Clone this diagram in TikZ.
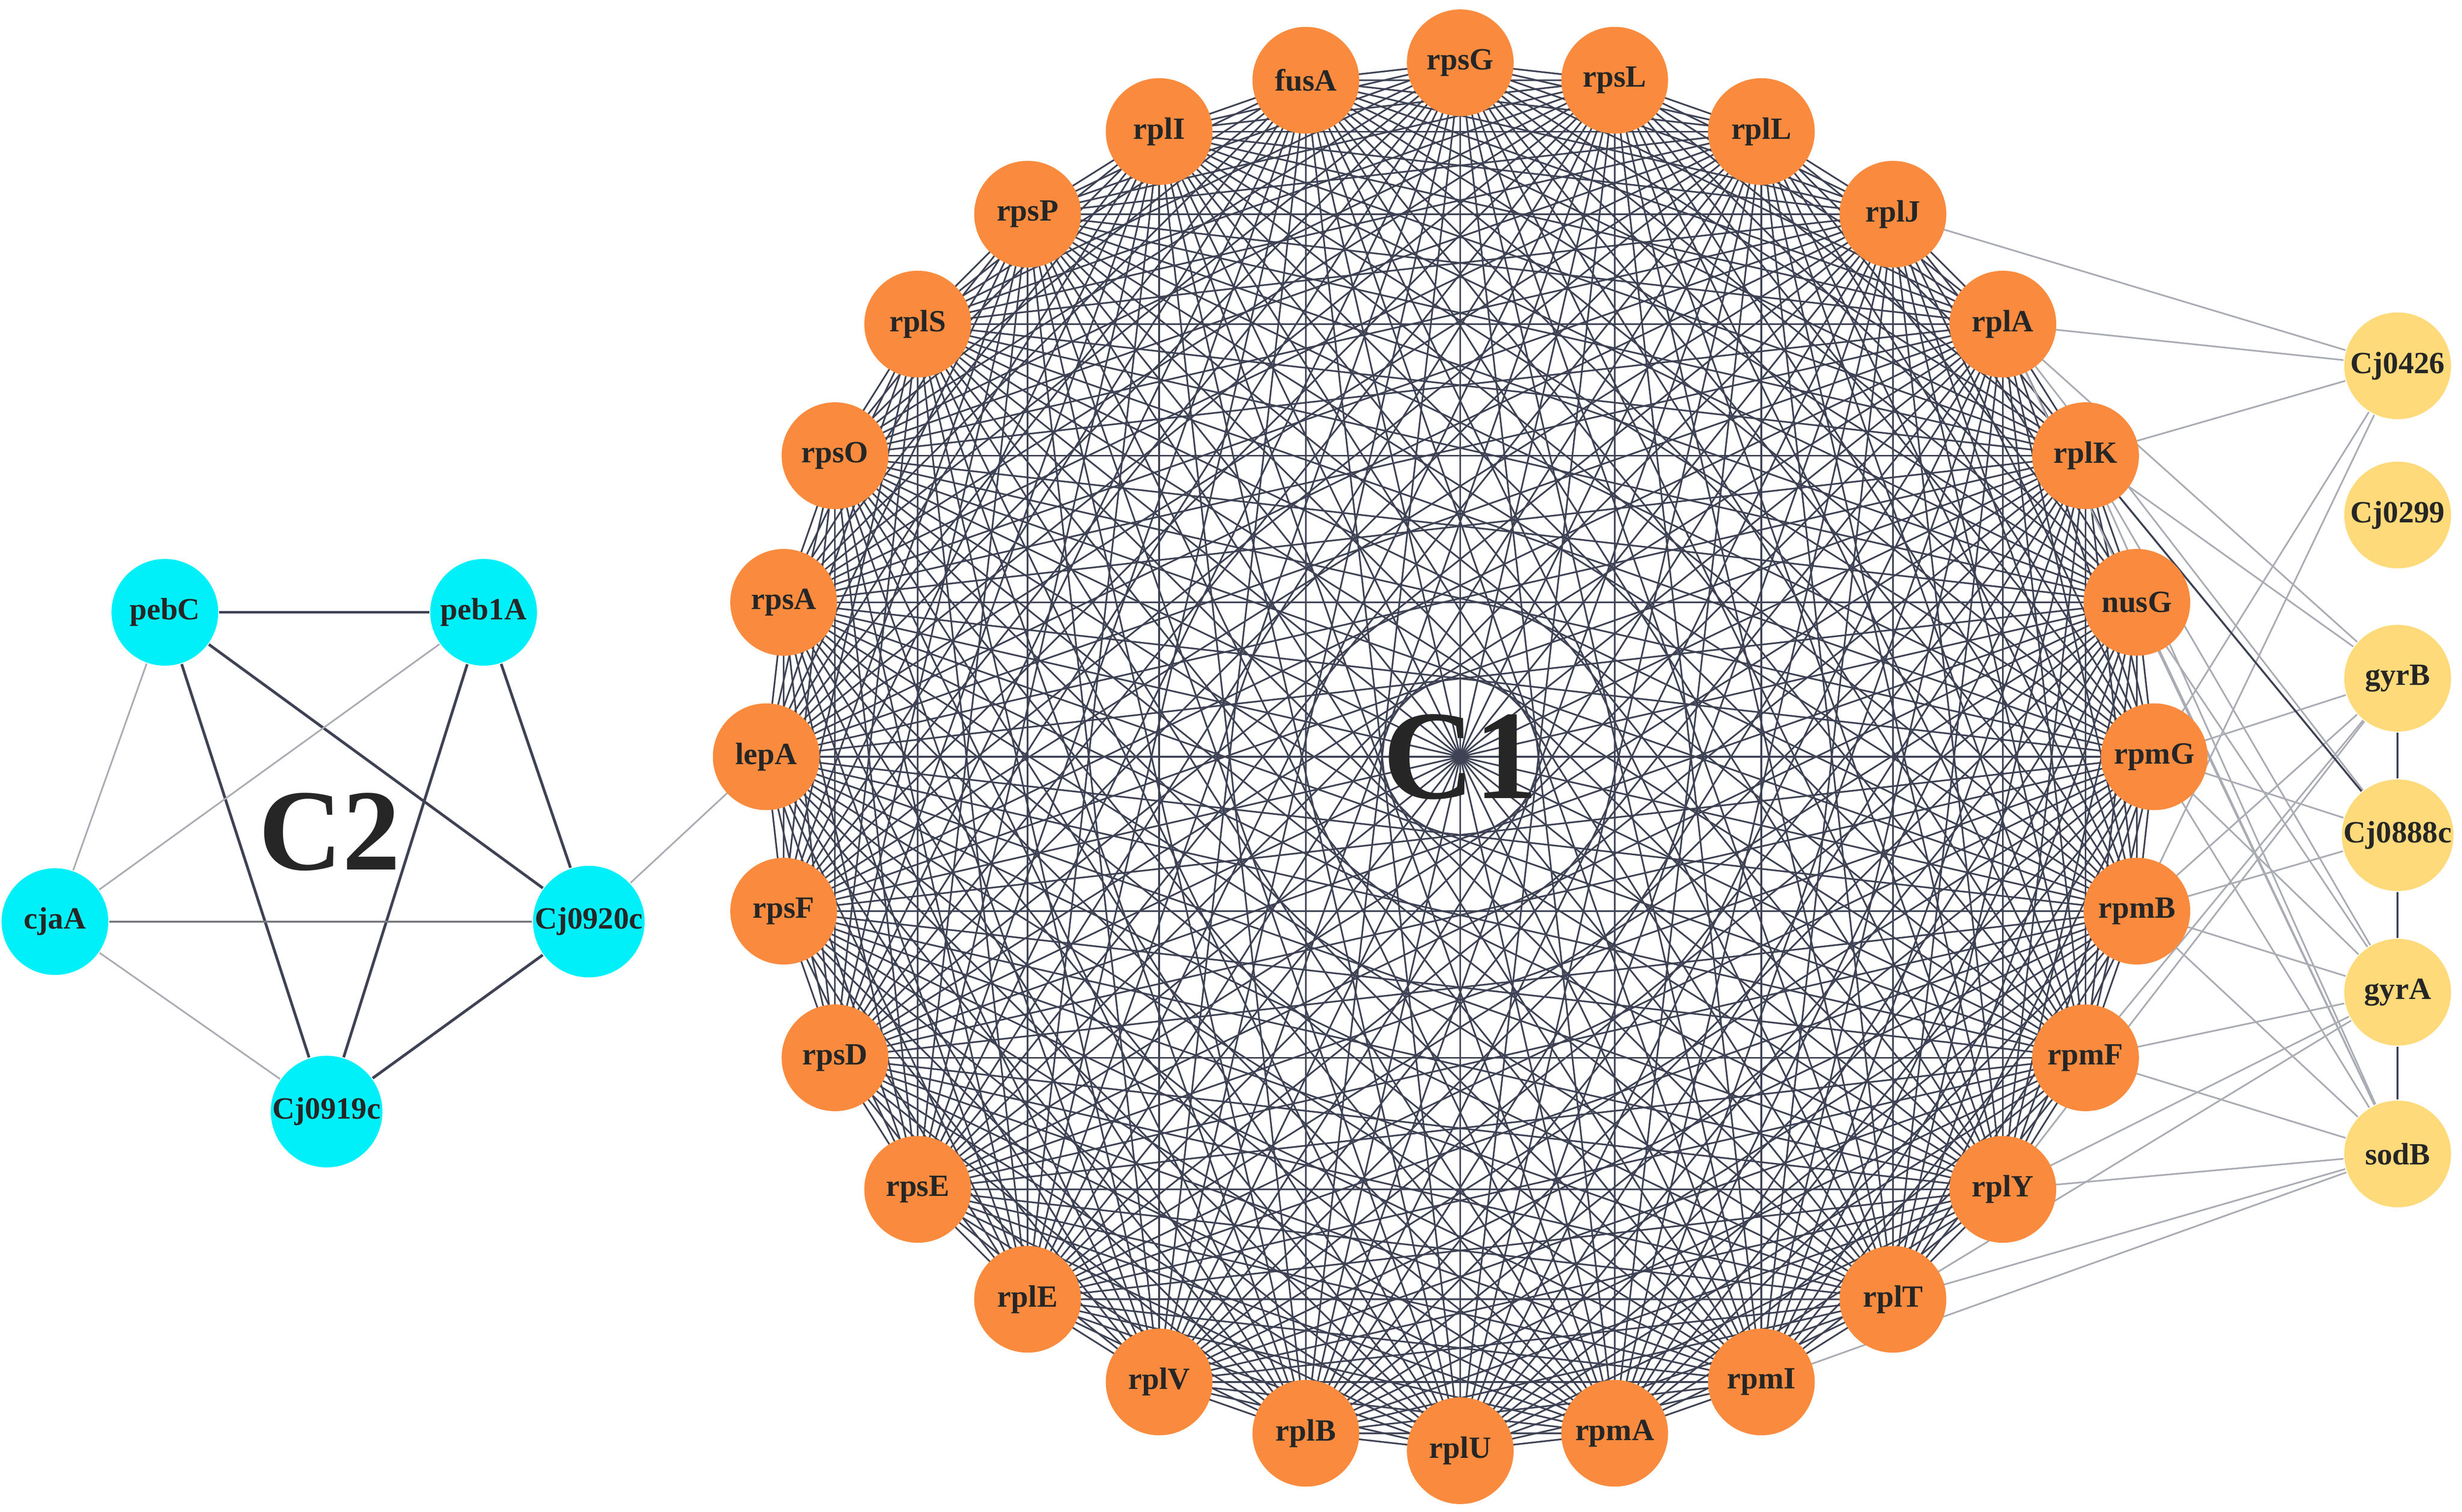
\documentclass[tikz,border=0pt]{standalone}
\usepackage{fontspec}
\setmainfont{Liberation Serif}
\usetikzlibrary{calc}
\definecolor{gene-orange}{RGB}{250,139,62}
\definecolor{gene-cyan}{RGB}{0,240,250}
\definecolor{gene-yellow}{RGB}{255,218,122}
\definecolor{edge-dark}{RGB}{62,66,84}
\definecolor{edge-light}{RGB}{170,172,180}
\tikzset{
  gene/.style={circle,minimum size=0.68cm,inner sep=0pt,font=\bfseries\fontsize{5.6}{6}\selectfont,text=black!85},
  ribo/.style={gene,fill=gene-orange},
  c2gene/.style={gene,fill=gene-cyan},
  other/.style={gene,fill=gene-yellow},
  dark/.style={edge-dark,line width=0.35pt},
  light/.style={edge-light,line width=0.3pt}
}
\begin{document}
\begin{tikzpicture}
  \useasboundingbox (0,0) rectangle (15.68,9.63);
  % cluster C1 on a ring
  \foreach \name [count=\i from 0] in {rpsG,rpsL,rplL,rplJ,rplA,rplK,nusG,rpmG,rpmB,rpmF,rplY,rplT,rpmI,rpmA,rplU,rplB,rplV,rplE,rpsE,rpsD,rpsF,lepA,rpsA,rpsO,rplS,rpsP,rplI,fusA}
    \coordinate (\name) at ($(9.30,4.81)+({90-\i*360/28}:4.42)$);
  \begin{scope}[dark,line width=0.3pt]
  \foreach \a [count=\i] in {rpsG,rpsL,rplL,rplJ,rplA,rplK,nusG,rpmG,rpmB,rpmF,rplY,rplT,rpmI,rpmA,rplU,rplB,rplV,rplE,rpsE,rpsD,rpsF,lepA,rpsA,rpsO,rplS,rpsP,rplI,fusA}
    \foreach \b [count=\j] in {rpsG,rpsL,rplL,rplJ,rplA,rplK,nusG,rpmG,rpmB,rpmF,rplY,rplT,rpmI,rpmA,rplU,rplB,rplV,rplE,rpsE,rpsD,rpsF,lepA,rpsA,rpsO,rplS,rpsP,rplI,fusA}
      {\ifnum\j>\i \draw (\a) -- (\b); \fi}
  \end{scope}
  % other genes
  \node[other] (Cj0426) at (15.27,7.30) {Cj0426};
  \node[other] (Cj0299) at (15.27,6.35) {Cj0299};
  \node[other] (gyrB) at (15.27,5.31) {gyrB};
  \node[other] (Cj0888c) at (15.27,4.31) {Cj0888c};
  \node[other] (gyrA) at (15.27,3.31) {gyrA};
  \node[other] (sodB) at (15.27,2.28) {sodB};
  \foreach \a/\b in {Cj0426/rplJ,Cj0426/rplA,Cj0426/rplK,Cj0426/rpmG,Cj0426/rpmB,
      gyrB/rplA,gyrB/rplK,gyrB/rpmG,gyrB/rpmB,gyrB/rpmF,gyrB/rplY,
      Cj0888c/rpmG,Cj0888c/rpmB,Cj0888c/rplA,
      gyrA/nusG,gyrA/rplK,gyrA/rpmG,gyrA/rpmB,gyrA/rpmF,gyrA/rplY,gyrA/rplT,
      sodB/rplA,sodB/rplK,sodB/nusG,sodB/rpmG,sodB/rpmB,sodB/rpmF,sodB/rplY,sodB/rplT,sodB/rpmI}
    \draw[light] (\a) -- (\b);
  \draw[dark] (Cj0888c) -- (rplK);
  \draw[dark] (gyrB) -- (Cj0888c) -- (gyrA) -- (sodB);
  % cluster C2
  \node[c2gene] (pebC) at (1.05,5.73) {pebC};
  \node[c2gene] (peb1A) at (3.08,5.73) {peb1A};
  \node[c2gene] (cjaA) at (0.35,3.76) {cjaA};
  \node[c2gene] (Cj0920c) at (3.75,3.76) {Cj0920c};
  \node[c2gene] (Cj0919c) at (2.08,2.55) {Cj0919c};
  \foreach \a/\b in {pebC/peb1A,pebC/Cj0920c,pebC/Cj0919c,peb1A/Cj0920c,peb1A/Cj0919c,Cj0920c/Cj0919c}
    \draw[dark,line width=0.5pt] (\a) -- (\b);
  \foreach \a/\b in {pebC/cjaA,peb1A/cjaA,cjaA/Cj0919c,Cj0920c/lepA}
    \draw[light] (\a) -- (\b);
  \draw[edge-light!70!black,line width=0.35pt] (cjaA) -- (Cj0920c);
  \foreach \name in {rpsG,rpsL,rplL,rplJ,rplA,rplK,nusG,rpmG,rpmB,rpmF,rplY,rplT,rpmI,rpmA,rplU,rplB,rplV,rplE,rpsE,rpsD,rpsF,lepA,rpsA,rpsO,rplS,rpsP,rplI,fusA}
    \node[ribo] at (\name) {\name};
  \node[font=\bfseries\fontsize{23}{23}\selectfont,text=black!85] (labelC1) at (9.30,4.81) {C1};
  \node[font=\bfseries\fontsize{21}{21}\selectfont,text=black!85] (labelC2) at (2.10,4.33) {C2};
\end{tikzpicture}
\end{document}
